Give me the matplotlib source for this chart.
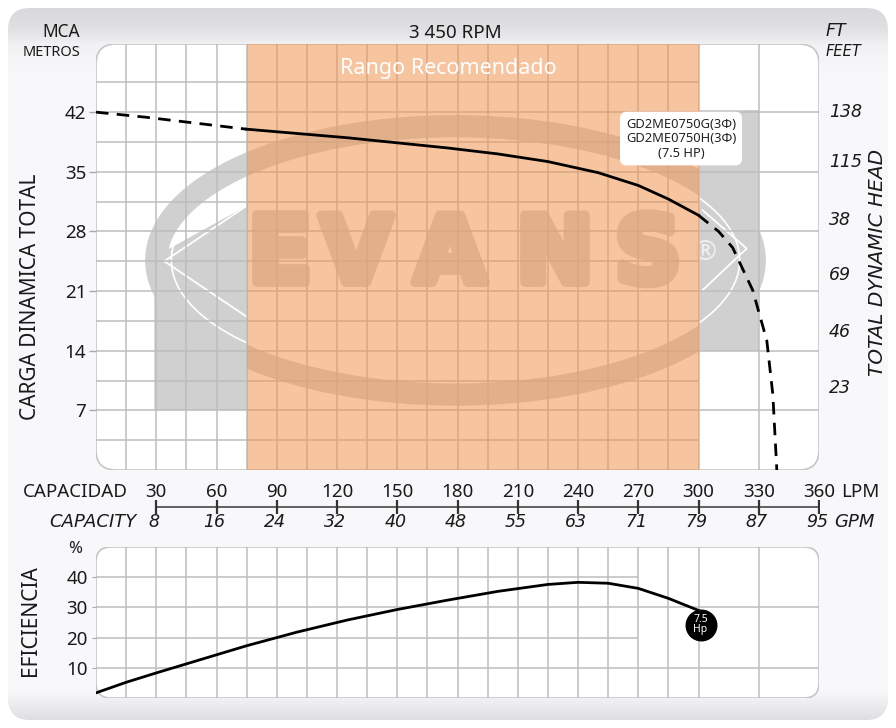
import matplotlib.pyplot as plt
import matplotlib.patheffects as pe
import numpy as np
from matplotlib.patches import FancyBboxPatch, Ellipse, Polygon

# --- datos ---
# curva de carga (LPM, metros): tramo punteado izq, tramo solido, tramo punteado der
q_carga_izq = [0, 25, 50, 75]
h_carga_izq = [42.0, 41.4, 40.7, 40.0]
q_carga = [75, 100, 125, 150, 175, 200, 225, 250, 270, 285, 300]
h_carga = [40.0, 39.5, 39.0, 38.4, 37.8, 37.1, 36.2, 34.9, 33.4, 31.8, 29.9]
q_carga_der = [300, 310, 317, 327, 334, 337, 339]
h_carga_der = [29.9, 28.0, 26.1, 21.1, 15.2, 8.9, 0.0]

# eficiencia (LPM, %)
q_eff = [0, 15, 30, 50, 75, 100, 125, 150, 175, 200, 225, 240, 255, 270, 285, 300]
eff = [1.7, 5.2, 8.3, 12.3, 17.3, 21.8, 25.8, 29.3, 32.4, 35.3, 37.6, 38.3, 38.0, 36.3, 33.0, 29.0]
hp_q, hp_eff = 301, 24.3

lpm_ticks = [30, 60, 90, 120, 150, 180, 210, 240, 270, 300, 330, 360]
gpm_labels = ['8', '16', '24', '32', '40', '48', '55', '63', '71', '79', '87', '95']
mca_ticks = [7, 14, 21, 28, 35, 42]
ft_pos = [42.2, 36.4, 29.6, 23.1, 16.4, 9.9]
ft_labels = ['138', '115', '38', '69', '46', '23']
eff_ticks = [10, 20, 30, 40]
rango = (75, 300)
modelo = 'GD2ME0750G(3Φ)\nGD2ME0750H(3Φ)\n(7.5 HP)'

plt.rcParams['font.family'] = ['Noto Sans', 'DejaVu Sans']
TXT = '#1a1a1a'
GRID = '#bdbdbd'
ITAL = dict(family=['DejaVu Sans'], style='italic', color=TXT)

W, H = 896, 728
fig = plt.figure(figsize=(W / 100, H / 100), dpi=100)
fig.patch.set_facecolor('white')


def fx(px):
    return px / W


def fy(py):
    return 1 - py / H


# fondo con degradado
bg = fig.add_axes([0, 0, 1, 1], zorder=-10)
bg.set_xlim(0, W)
bg.set_ylim(H, 0)
bg.axis('off')
shade = np.interp(np.arange(H), [0, 8, 28, 45, 80, 690, 703, 720, 728],
                  [0.98, 0.85, 0.88, 0.95, 0.975, 0.975, 0.93, 0.87, 0.87])
rgb = np.dstack([shade, shade, np.clip(shade * 1.01, 0, 1)]).reshape(H, 1, 3)
img = bg.imshow(np.repeat(rgb, 2, axis=1), extent=[0, W, H, 0], aspect='auto')
panel = FancyBboxPatch((8, 8), 880, 712, boxstyle='round,pad=0,rounding_size=22',
                       facecolor='none', edgecolor='none')
bg.add_patch(panel)
img.set_clip_path(panel)


def marco(axis, wpx, hpx, r):
    axis.patch.set_visible(False)
    for s in axis.spines.values():
        s.set_visible(False)
    p = FancyBboxPatch((0, 0), 1, 1, boxstyle=f'round,pad=0,rounding_size={r / wpx}',
                       mutation_aspect=wpx / hpx, transform=axis.transAxes,
                       facecolor='white', edgecolor='#c6c6c6', lw=1.2, zorder=0)
    axis.add_patch(p)
    return p


# ---------------- grafica principal ----------------
ax = fig.add_axes([fx(96), fy(470), (819 - 96) / W, (470 - 44) / H])
ax.set_xlim(0, 360)
ax.set_ylim(0, 50)
frame = marco(ax, 723, 426, 20)

# marca de agua EVANS
wm = '#d0d0d0'
ax.add_patch(Polygon([(29, 7), (75, 7), (75, 31), (29, 25)], closed=True, facecolor=wm,
                     edgecolor='none', zorder=0.3))
ax.add_patch(Polygon([(300, 14), (330, 14), (330, 42.3), (300, 42.3)], closed=True,
                     facecolor=wm, edgecolor='none', zorder=0.3))
ax.add_patch(Ellipse((179, 24.6), 298, 31.5, fill=False, edgecolor=wm, lw=16, zorder=0.3))
ax.add_patch(Ellipse((179, 24.6), 283, 28.5, fill=False, edgecolor='white', lw=1.2,
                     zorder=0.35))
ax.plot([75, 34, 75], [31, 24.5, 18], color='white', lw=1.3, zorder=0.35)
ax.plot([302, 324, 302], [30.5, 26.0, 21.1], color='white', lw=1.3, zorder=0.35)
grueso = [pe.withStroke(linewidth=7, foreground=wm)]
for letra, xc in zip('EVANS', [91.6, 129.5, 176.3, 228.5, 274.9]):
    ax.text(xc, 25.1, letra, ha='center', va='center', fontsize=66, fontweight='bold',
            family=['DejaVu Sans'], color=wm, zorder=0.4, path_effects=grueso)
ax.text(303.5, 25.5, '®', ha='center', va='center', fontsize=20, color='#eeeeee', zorder=0.4)

# rejilla
finas = np.arange(15, 301, 15)
vl = ax.vlines(list(finas) + [330], 0, 50, color=GRID, lw=1.1, zorder=0.6)
hl = ax.hlines(np.arange(3.5, 46, 3.5), 0, 300, color=GRID, lw=1.1, zorder=0.6)
hl2 = ax.hlines(mca_ticks, 300, 360, color=GRID, lw=1.1, zorder=0.6)
for c in (vl, hl, hl2):
    c.set_clip_path(frame)

# rango recomendado
ax.axvspan(*rango, color='#F29453', alpha=0.55, lw=0, zorder=1)
ax.text(sum(rango) / 2 - 12, 47.1, 'Rango Recomendado', ha='center', va='center',
        fontsize=15.5, color='white', zorder=2)

# curva
ax.plot(q_carga_izq, h_carga_izq, color='black', lw=2, ls=(0, (4.5, 3)), zorder=3)
ax.plot(q_carga, h_carga, color='black', lw=2, zorder=3)
ax.plot(q_carga_der, h_carga_der, color='black', lw=2, ls=(0, (4.5, 3)), zorder=3)

ax.text(291.3, 38.9, modelo, ha='center', va='center', fontsize=9.3, color='#222222',
        linespacing=1.15, zorder=4,
        bbox=dict(boxstyle='round,pad=0.45,rounding_size=0.5', facecolor='white',
                  edgecolor='none'))

ax.set_xticks([])
ax.set_yticks(mca_ticks)
ax.tick_params(axis='y', length=5, color='#aaaaaa', width=1, labelsize=13.5,
               labelcolor=TXT, pad=2)

ax2 = ax.twinx()
ax2.set_ylim(0, 50)
ax2.patch.set_visible(False)
for s in ax2.spines.values():
    s.set_visible(False)
ax2.set_yticks(ft_pos)
ax2.set_yticklabels(ft_labels, **ITAL)
ax2.tick_params(axis='y', length=0, labelsize=12.5, pad=7)

fig.text(fx(80), fy(32), 'MCA', ha='right', va='center', fontsize=12.5, color=TXT)
fig.text(fx(80), fy(52), 'METROS', ha='right', va='center', fontsize=10.5, color=TXT)
fig.text(fx(455), fy(33), '3 450 RPM', ha='center', va='center', fontsize=13.5, color=TXT)
fig.text(fx(826), fy(31), 'FT', ha='left', va='center', fontsize=12.5, **ITAL)
fig.text(fx(826), fy(51), 'FEET', ha='left', va='center', fontsize=10.5, **ITAL)
fig.text(fx(31), fy(297), 'CARGA DINAMICA TOTAL', rotation=90, ha='center', va='center',
         fontsize=15, color=TXT)
fig.text(fx(877), fy(262), 'TOTAL DYNAMIC HEAD', rotation=90, ha='center', va='center',
         fontsize=14.5, **ITAL)

# ---------------- escala de capacidad ----------------
axm = fig.add_axes([fx(96), fy(540), (819 - 96) / W, 66 / H])
axm.set_xlim(0, 360)
axm.set_ylim(0, 1)
axm.axis('off')
axm.plot([lpm_ticks[0], lpm_ticks[-1]], [0.5, 0.5], color='#555555', lw=1.3)
axm.plot(lpm_ticks, [0.5] * len(lpm_ticks), ls='none', marker='|', ms=10, mew=1.6,
         color='#333333')
for q, g in zip(lpm_ticks, gpm_labels):
    axm.text(q, 0.73, str(q), ha='center', va='center', fontsize=13.5, color=TXT)
    axm.text(q - 1, 0.27, g, ha='center', va='center', fontsize=12.5, **ITAL)
axm.text(16, 0.73, 'CAPACIDAD', ha='right', va='center', fontsize=13.5, color=TXT)
axm.text(371, 0.73, 'LPM', ha='left', va='center', fontsize=13.5, color=TXT)
axm.text(20, 0.27, 'CAPACITY', ha='right', va='center', fontsize=13, **ITAL)
axm.text(367.5, 0.27, 'GPM', ha='left', va='center', fontsize=13, **ITAL)

# ---------------- eficiencia ----------------
axe = fig.add_axes([fx(96), fy(698), (819 - 96) / W, (698 - 547) / H])
axe.set_xlim(0, 360)
axe.set_ylim(0, 50)
frame_e = marco(axe, 723, 151, 15)
v2 = axe.vlines(list(finas) + [330], 0, 50, color=GRID, lw=1.1, zorder=0.6)
h2 = axe.hlines([10, 30], 0, 360, color=GRID, lw=1.1, zorder=0.6)
h3 = axe.hlines([20, 40], 0, 270, color=GRID, lw=1.1, zorder=0.6)
for c in (v2, h2, h3):
    c.set_clip_path(frame_e)

axe.plot(q_eff, eff, color='black', lw=2, zorder=3)
axe.plot([hp_q], [hp_eff], 'o', ms=22, color='black', zorder=4)
axe.text(hp_q, hp_eff, '7.5\nHp', ha='center', va='center', fontsize=7.5, color='white',
         linespacing=0.8, zorder=5)

axe.set_xticks([])
axe.set_yticks(eff_ticks)
axe.tick_params(axis='y', length=3, color='#aaaaaa', labelsize=13.5, labelcolor=TXT, pad=3)

fig.text(fx(75), fy(549), '%', ha='center', va='center', fontsize=12, color=TXT)
fig.text(fx(31), fy(621), 'EFICIENCIA', rotation=90, ha='center', va='center',
         fontsize=15, color=TXT)

fig.savefig('out.png', dpi=100)
